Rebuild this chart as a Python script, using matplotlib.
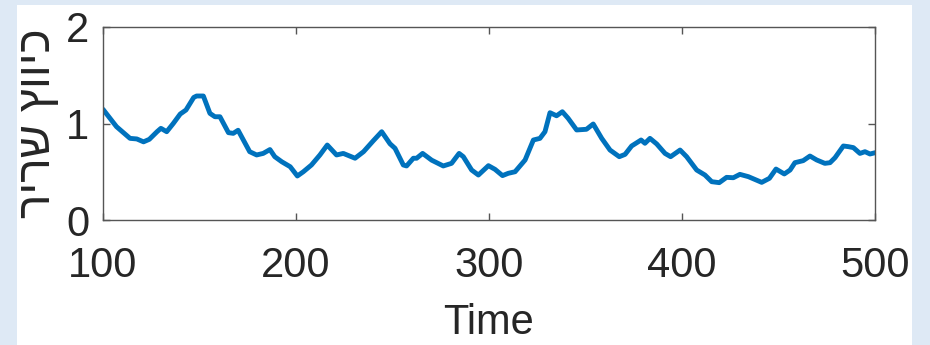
import matplotlib
matplotlib.use("Agg")
import matplotlib.pyplot as plt
from matplotlib.patches import Rectangle

# muscle contraction trace
time = [100, 107, 114, 117.5, 121, 124, 128, 130, 133, 136.4, 140, 143, 147, 148.5, 152,
        155.4, 158, 160.6, 165, 167.5, 170, 176, 179.6, 183, 186.5, 189, 192.6, 197, 200.7,
        203.8, 208, 212.4, 216.2, 221, 224.5, 230.6, 235, 240, 244.4, 248.7, 251.3, 255.6,
        257.3, 260.8, 262.5, 265.6, 270.3, 276.3, 280.6, 284.5, 286.7, 291, 294.5, 299.7,
        303.1, 307, 310, 313.5, 318.7, 323, 326.4, 329, 331.6, 335, 338, 341, 345.4, 350.5,
        354, 358.4, 362.7, 367.5, 370.5, 373.9, 378.8, 380.8, 383.4, 386.9, 391.2, 394.1,
        399, 402.4, 407.6, 411.9, 415.4, 419.3, 423.1, 426.6, 430, 434.4, 441.3, 445.3,
        448.7, 453, 456, 458.5, 462.8, 466.3, 469.8, 474, 476.7, 479.3, 483.6, 486.2,
        488.8, 492.2, 494.8, 497.4, 500]
force = [1.147, 0.967, 0.846, 0.84, 0.81, 0.836, 0.915, 0.95, 0.915, 1.0, 1.098, 1.14, 1.27,
         1.285, 1.285, 1.105, 1.07, 1.07, 0.905, 0.898, 0.93, 0.708, 0.674, 0.69, 0.73, 0.656,
         0.604, 0.552, 0.456, 0.5, 0.57, 0.674, 0.777, 0.674, 0.69, 0.64, 0.708, 0.82, 0.915,
         0.79, 0.743, 0.57, 0.56, 0.64, 0.64, 0.69, 0.62, 0.56, 0.587, 0.69, 0.656, 0.518,
         0.466, 0.563, 0.525, 0.46, 0.484, 0.5, 0.622, 0.829, 0.846, 0.915, 1.112, 1.08,
         1.122, 1.054, 0.933, 0.94, 0.995, 0.846, 0.725, 0.656, 0.68, 0.767, 0.829, 0.795,
         0.846, 0.788, 0.69, 0.656, 0.725, 0.656, 0.518, 0.466, 0.397, 0.387, 0.442, 0.438,
         0.473, 0.449, 0.39, 0.432, 0.528, 0.477, 0.518, 0.594, 0.615, 0.663, 0.622, 0.587,
         0.594, 0.646, 0.767, 0.76, 0.75, 0.69, 0.708, 0.684, 0.697]
xticks = [100, 200, 300, 400, 500]
yticks = [0, 1, 2]
xlabel = "Time"
ylabel = "רירש ץוויכ"  # "כיווץ שריר" in visual order

plt.rcParams['font.family'] = ['Liberation Sans', 'DejaVu Sans']
plt.rcParams['font.size'] = 30

fig = plt.figure(figsize=(9.3, 3.45), dpi=100, facecolor='#dee9f5')
fig.patches.append(Rectangle((17/930, 0), 895/930, 340/345, transform=fig.transFigure,
                             facecolor='white', edgecolor='none', zorder=-1))

ax = fig.add_axes([103/930, 1 - 220/345, 772/930, 193/345])
ax.plot(time, force, color='#0072bd', linewidth=3.5,
        solid_joinstyle='round', solid_capstyle='round')
ax.set_xlim(100, 500)
ax.set_ylim(0, 2)
ax.set_xticks(xticks)
ax.set_yticks(yticks)
ax.tick_params(direction='in', length=5, width=1, color='#555555',
               top=True, right=True, labelcolor='#262626')
ax.tick_params(axis='x', pad=19)
ax.tick_params(axis='y', pad=10)
for s in ax.spines.values():
    s.set_color('#555555')
    s.set_linewidth(1)
ax.set_xlabel(xlabel, color='#262626', labelpad=12)
ax.set_ylabel(ylabel, color='#262626', labelpad=4, fontsize=33)

fig.savefig('out.png', dpi=100, facecolor=fig.get_facecolor())
